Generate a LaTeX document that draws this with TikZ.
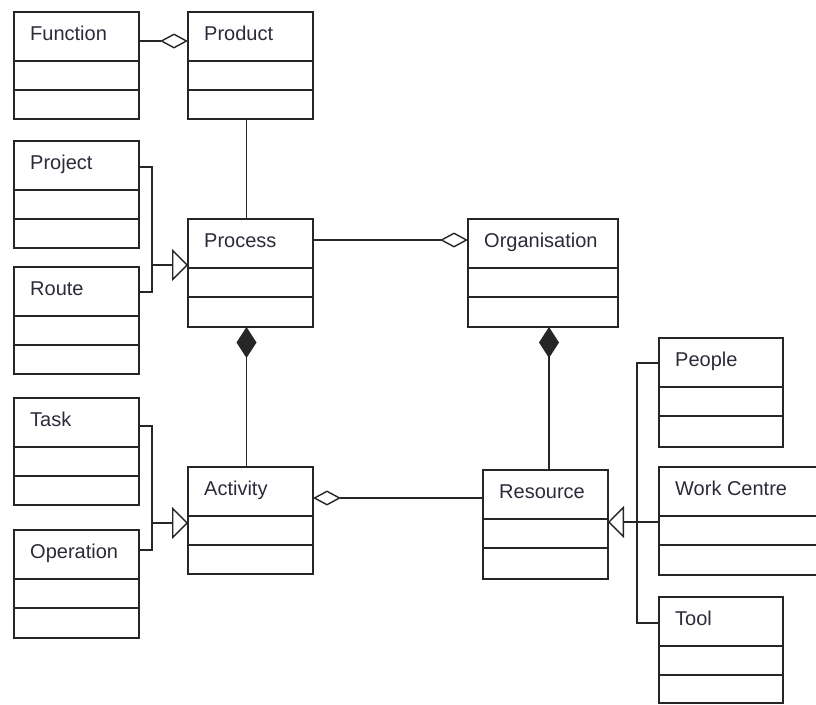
\documentclass[tikz,border=0pt]{standalone}
\usepackage{fontspec}
\setmainfont{Liberation Sans}
\usetikzlibrary{arrows.meta}
\definecolor{linec}{RGB}{38,38,38}
\definecolor{txtc}{RGB}{46,42,58}
\tikzset{
  cls/.style={draw=linec, line width=1.4pt, anchor=north west, inner sep=0pt, outer sep=0pt,
    minimum width=125pt, minimum height=107pt,
    path picture={
      \draw[linec, line width=1.4pt] ([yshift=-49pt]path picture bounding box.north west) -- ([yshift=-49pt]path picture bounding box.north east);
      \draw[linec, line width=1.4pt] ([yshift=-78pt]path picture bounding box.north west) -- ([yshift=-78pt]path picture bounding box.north east);
    }},
  cname/.style={anchor=base west, xshift=16pt, yshift=-28pt, inner sep=0pt,
    font=\fontsize{20pt}{24pt}\selectfont, text=txtc},
  conn/.style={draw=linec, line width=1.4pt},
  agg/.style={conn, -{Diamond[open, length=28pt, width=15pt]}},
  comp/.style={conn, {Diamond[length=31pt, width=20pt]}-},
  gen/.style={conn, -{Triangle[open, length=16pt, width=32pt]}}
}
\begin{document}
\begin{tikzpicture}[x=1pt,y=-1pt]
\useasboundingbox[fill=white] (0,0) rectangle (816,704);
% classes
\node[cls, label={[cname]north west:Function}] (function) at (14,12) {};
\node[cls, label={[cname]north west:Product}] (product) at (188,12) {};
\node[cls, label={[cname]north west:Project}] (project) at (14,141) {};
\node[cls, label={[cname]north west:Route}] (route) at (14,267) {};
\node[cls, minimum height=108pt, label={[cname]north west:Process}] (process) at (188,219) {};
\node[cls, minimum width=150pt, minimum height=108pt, label={[cname]north west:Organisation}] (organisation) at (468,219) {};
\node[cls, label={[cname]north west:Task}] (task) at (14,398) {};
\node[cls, minimum height=108pt, label={[cname]north west:Operation}] (operation) at (14,530) {};
\node[cls, label={[cname]north west:Activity}] (activity) at (188,467) {};
\node[cls, minimum height=109pt, label={[cname]north west:Resource}] (resource) at (483,470) {};
\node[cls, minimum width=124pt, minimum height=109pt, label={[cname]north west:People}] (people) at (659,338) {};
\node[cls, minimum width=160pt, minimum height=108pt, label={[cname]north west:Work Centre}] (workcentre) at (659,467) {};
\node[cls, minimum width=124pt, minimum height=106pt, label={[cname]north west:Tool}] (tool) at (659,597) {};
% associations
\draw[agg] ([yshift=-29pt]function.north east) -- ([yshift=-29pt]function.north east -| product.west);
\draw[conn] ([xshift=-4pt]product.south) -- ([xshift=-4pt]product.south |- process.north);
\draw[agg] ([yshift=-21pt]process.north east) -- ([yshift=-21pt]process.north east -| organisation.west);
\draw[comp] ([xshift=-4pt]process.south) -- ([xshift=-4pt]process.south |- activity.north);
\draw[comp] ([xshift=6pt]organisation.south) -- ([xshift=6pt]organisation.south |- resource.north);
\draw[agg] ([yshift=-28pt]resource.north west) -- ([yshift=-28pt]resource.north west -| activity.east);
% generalisations
\coordinate (j1) at (152,265);
\draw[conn] ([yshift=-26pt]project.north east) -| (j1);
\draw[conn] ([yshift=-25pt]route.north east) -| (j1);
\draw[gen] (j1) -- (j1 -| process.west);
\coordinate (j2) at (152,523);
\draw[conn] ([yshift=-28pt]task.north east) -| (j2);
\draw[conn] ([yshift=-20pt]operation.north east) -| (j2);
\draw[gen] (j2) -- (j2 -| activity.west);
\coordinate (j3) at (637,522);
\draw[conn] ([yshift=-25pt]people.north west) -| (j3);
\draw[conn] ([yshift=-26pt]tool.north west) -| (j3);
\draw[gen] ([yshift=-55pt]workcentre.north west) -- ([yshift=-55pt]workcentre.north west -| resource.east);
\end{tikzpicture}
\end{document}
